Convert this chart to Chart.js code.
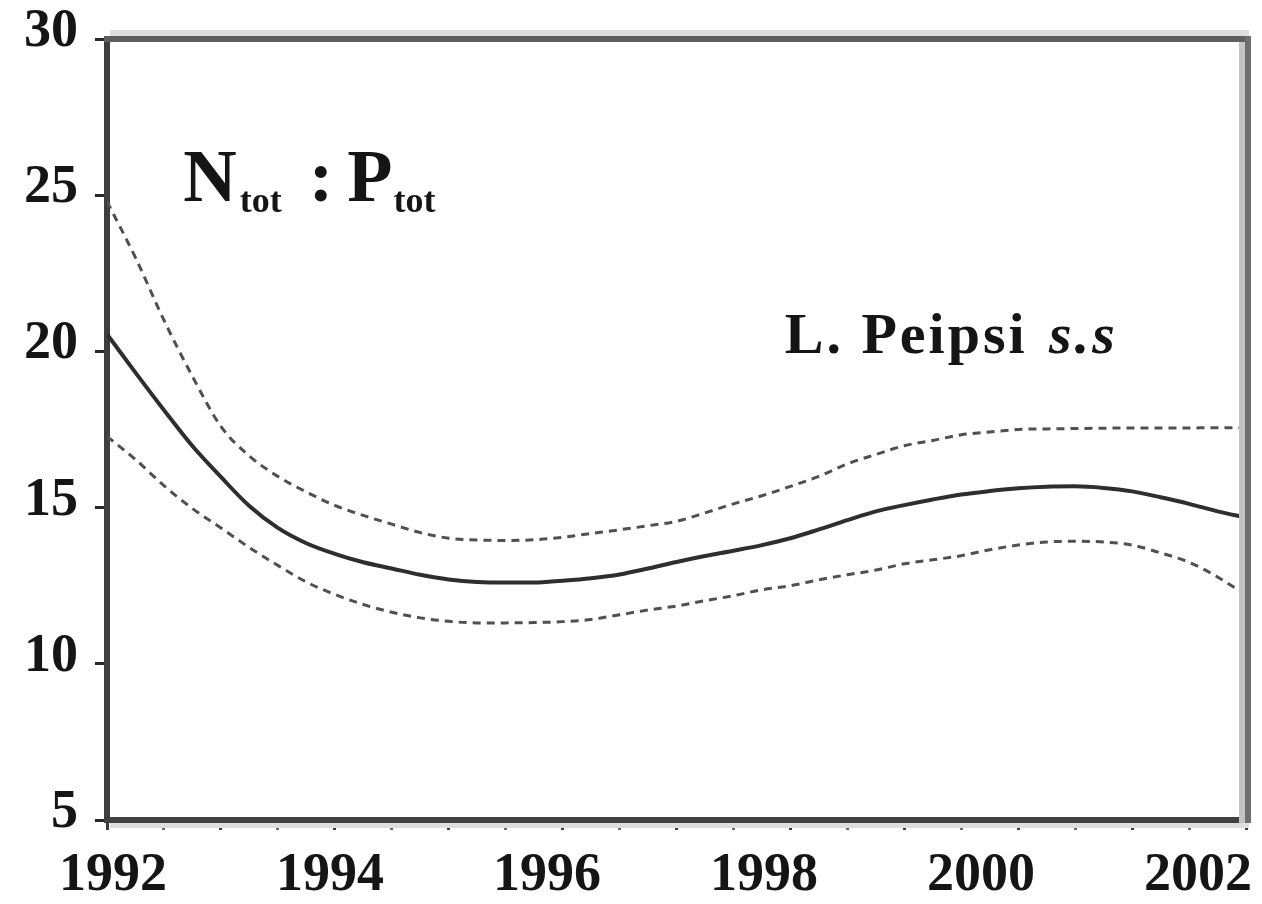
<!DOCTYPE html>
<html>
<head>
<meta charset="utf-8">
<script src="https://cdn.jsdelivr.net/npm/chart.js@4.4.1/dist/chart.umd.min.js"></script>
<style>
  html, body { margin: 0; padding: 0; background: #fff; }
  canvas { display: block; }
</style>
</head>
<body>
<canvas id="chart" width="1262" height="904"></canvas>
<script>
// N_tot : P_tot trend for L. Peipsi s.s. — fitted curve plus upper/lower bands

const YEARS = [
  1992, 1992.25, 1992.5, 1992.75, 1993, 1993.25, 1993.5, 1993.75,
  1994, 1994.25, 1994.5, 1994.75, 1995, 1995.25, 1995.5, 1995.75,
  1996, 1996.25, 1996.5, 1996.75, 1997, 1997.25, 1997.5, 1997.75,
  1998, 1998.25, 1998.5, 1998.75, 1999, 1999.25, 1999.5, 1999.75,
  2000, 2000.25, 2000.5, 2000.75, 2001, 2001.25, 2001.5, 2001.75, 2002,
];

const UPPER = [
  24.8, 23.0, 21.0, 19.2, 17.6, 16.65, 16.0, 15.5,
  15.07, 14.75, 14.47, 14.2, 14.02, 13.96, 13.95, 13.97,
  14.05, 14.17, 14.29, 14.42, 14.56, 14.83, 15.12, 15.38,
  15.68, 16.0, 16.4, 16.7, 16.98, 17.15, 17.33, 17.42,
  17.5, 17.52, 17.53, 17.54, 17.55, 17.55, 17.55, 17.56, 17.56,
];

const TREND = [
  20.55, 19.32, 18.12, 16.97, 15.98, 15.05, 14.35, 13.86,
  13.52, 13.25, 13.05, 12.85, 12.7, 12.62, 12.6, 12.6,
  12.66, 12.74, 12.86, 13.05, 13.26, 13.45, 13.62, 13.8,
  14.02, 14.3, 14.6, 14.88, 15.08, 15.26, 15.42, 15.53,
  15.62, 15.67, 15.68, 15.63, 15.52, 15.33, 15.12, 14.88, 14.68,
];

const LOWER = [
  17.28, 16.54, 15.7, 14.97, 14.35, 13.72, 13.15, 12.62,
  12.22, 11.9, 11.65, 11.47, 11.36, 11.31, 11.31, 11.32,
  11.35, 11.42, 11.57, 11.72, 11.85, 12.02, 12.18, 12.37,
  12.5, 12.69, 12.85, 13.0, 13.2, 13.33, 13.46, 13.65,
  13.8, 13.9, 13.92, 13.9, 13.8, 13.55, 13.25, 12.78, 12.2,
];

const Y_TICKS = [5, 10, 15, 20, 25, 30];
const YEAR_LABELS = [1992, 1994, 1996, 1998, 2000, 2002];

// year labels in the source drift a little left of their ticks,
// so they get their own (slightly wider) label axis
const LABEL_AXIS_MIN = 1991.945;
const LABEL_AXIS_MAX = 2002.443;

// text anchors, in data units
const TITLE_AT = { x: 1992.67, y: 24.8 };
const LAKE_AT  = { x: 1997.95, y: 19.95 };

const SERIF = '"Liberation Serif", "Times New Roman", serif';
const INK = '#151515';

const pts = vals => YEARS.map((x, i) => ({ x, y: vals[i] }));

const lineBase = {
  showLine: true,
  pointRadius: 0,
  fill: false,
  cubicInterpolationMode: 'monotone',
};

// grey 3D-ish frame on top / right, light shadow under the x axis
const framePlugin = {
  id: 'frame',
  afterDraw(chart) {
    const { ctx, chartArea: a } = chart;
    ctx.save();
    ctx.fillStyle = '#dedede';
    ctx.fillRect(a.left + 3, a.top - 9, a.right - a.left, 6);
    ctx.fillRect(a.left + 3, a.bottom + 3, a.right - a.left, 5);
    ctx.fillStyle = '#c4c4c4';
    ctx.fillRect(a.right - 7, a.top + 3, 6, a.bottom - a.top);
    ctx.fillStyle = '#5e5e5e';
    ctx.fillRect(a.left - 3, a.top - 3, a.right - a.left + 8, 6);
    ctx.fillStyle = '#6e6e6e';
    ctx.fillRect(a.right - 1, a.top - 3, 6, a.bottom - a.top + 6);
    ctx.restore();
  },
};

const labelsPlugin = {
  id: 'labels',
  afterDraw(chart) {
    const { ctx, scales: { x, y } } = chart;
    ctx.save();
    ctx.fillStyle = INK;
    ctx.textBaseline = 'alphabetic';
    ctx.textAlign = 'left';

    // N_tot : P_tot
    let px = x.getPixelForValue(TITLE_AT.x);
    const py = y.getPixelForValue(TITLE_AT.y);
    const big = 'bold 74px ' + SERIF;
    const sub = 'bold 36px ' + SERIF;
    ctx.font = big; ctx.fillText('N', px, py); px += ctx.measureText('N').width + 3;
    ctx.font = sub; ctx.fillText('tot', px, py + 11); px += ctx.measureText('tot').width + 27;
    ctx.font = big; ctx.fillText(':', px, py); px += ctx.measureText(':').width + 14;
    ctx.fillText('P', px, py); px += ctx.measureText('P').width + 1;
    ctx.font = sub; ctx.fillText('tot', px, py + 11);

    // L. Peipsi s.s
    let lx = x.getPixelForValue(LAKE_AT.x);
    const ly = y.getPixelForValue(LAKE_AT.y);
    if ('letterSpacing' in ctx) ctx.letterSpacing = '3px';
    ctx.font = 'bold 58px ' + SERIF;
    ctx.fillText('L. Peipsi ', lx, ly); lx += ctx.measureText('L. Peipsi ').width + 4;
    ctx.font = 'italic bold 58px ' + SERIF;
    ctx.fillText('s.s', lx, ly);
    ctx.restore();
  },
};

new Chart(document.getElementById('chart'), {
  type: 'scatter',
  data: {
    datasets: [
      { ...lineBase, label: 'upper', data: pts(UPPER), borderColor: '#505050', borderWidth: 3, borderDash: [8, 6] },
      { ...lineBase, label: 'trend', data: pts(TREND), borderColor: '#2e2e2e', borderWidth: 4 },
      { ...lineBase, label: 'lower', data: pts(LOWER), borderColor: '#505050', borderWidth: 3, borderDash: [8, 6] },
    ],
  },
  options: {
    responsive: false,
    animation: false,
    devicePixelRatio: 1,
    layout: { padding: { top: 39, right: 16, left: 0, bottom: 0 } },
    plugins: { legend: { display: false }, tooltip: { enabled: false } },
    scales: {
      x: {
        type: 'linear',
        position: 'bottom',
        weight: 0,
        min: 1992,
        max: 2002,
        ticks: { display: false, stepSize: 0.5 },
        grid: {
          drawOnChartArea: false,
          drawTicks: true,
          tickLength: 10,
          tickWidth: 3,
          tickColor: c => Number.isInteger(c.tick.value) ? '#3c3c3c' : '#6a6a6a',
        },
        border: { color: '#414141', width: 6 },
        afterFit: s => { s.height = 10; s.paddingLeft = 0; s.paddingRight = 0; },
      },
      xl: {
        type: 'linear',
        position: 'bottom',
        weight: 1,
        min: LABEL_AXIS_MIN,
        max: LABEL_AXIS_MAX,
        afterBuildTicks: s => { s.ticks = YEAR_LABELS.map(v => ({ value: v })); },
        ticks: {
          autoSkip: false,
          maxRotation: 0,
          padding: 14,
          color: INK,
          font: { family: SERIF, size: 54, weight: 'bold' },
          callback: v => String(v),
        },
        grid: { display: false, drawTicks: false },
        border: { display: false },
        afterFit: s => { s.height = 74; s.paddingLeft = 0; s.paddingRight = 0; },
      },
      y: {
        type: 'linear',
        min: 5,
        max: 30,
        afterBuildTicks: s => { s.ticks = Y_TICKS.map(v => ({ value: v })); },
        ticks: {
          padding: 17,
          labelOffset: -7,
          color: INK,
          font: { family: SERIF, size: 54, weight: 'bold' },
        },
        grid: {
          drawOnChartArea: false,
          tickLength: 12,
          tickWidth: 3,
          tickColor: '#2a2a2a',
        },
        border: { color: '#3e3e3e', width: 6 },
        afterFit: s => { s.width = 107; s.paddingTop = 0; s.paddingBottom = 0; },
      },
    },
  },
  plugins: [framePlugin, labelsPlugin],
});
</script>
</body>
</html>
